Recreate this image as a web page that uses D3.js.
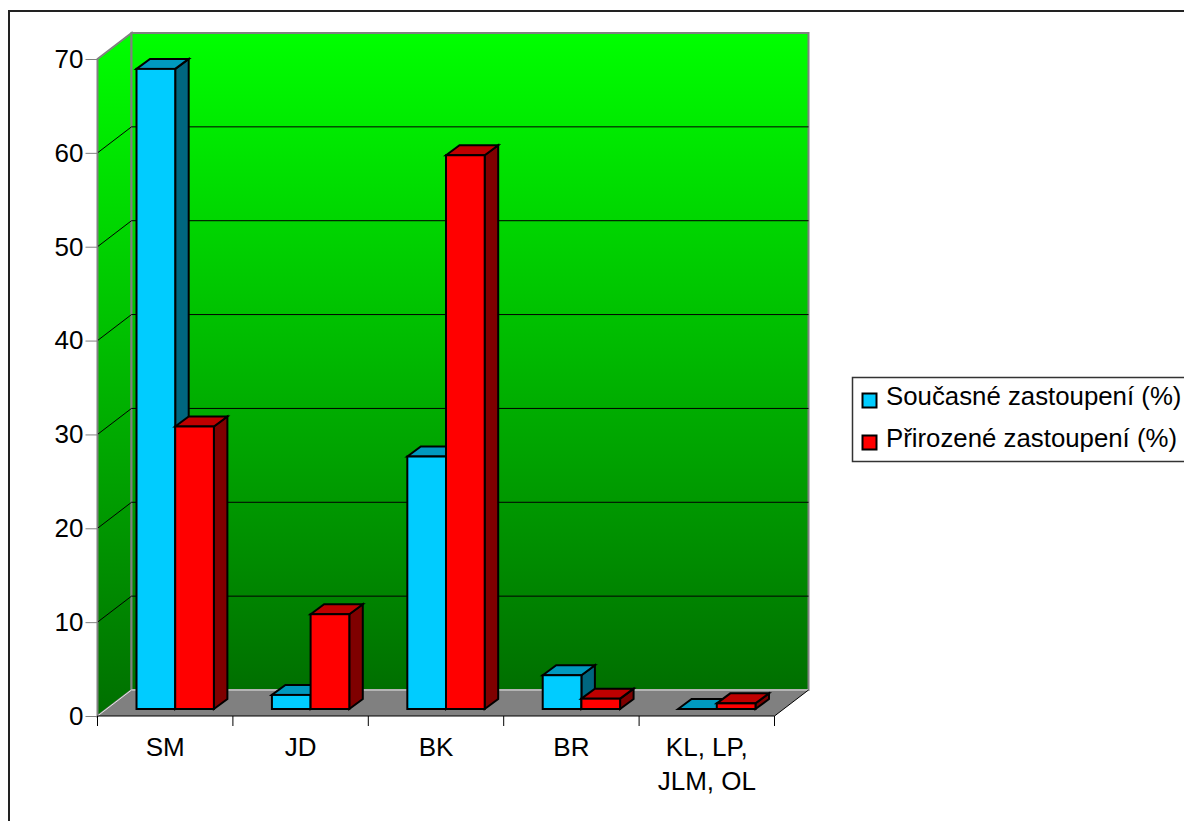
<!DOCTYPE html>
<html>
<head>
<meta charset="utf-8">
<script src="https://cdn.jsdelivr.net/npm/d3@7/dist/d3.min.js"></script>
<style>
  html, body { margin: 0; padding: 0; background: #fff; overflow: hidden; }
  text { font-family: "Liberation Sans", Arial, sans-serif; fill: #000; }
</style>
</head>
<body>
<div id="chart"></div>
<script>
// values
const categories = ['SM', 'JD', 'BK', 'BR', 'KL, LP, JLM, OL'];
const categoryLines = [['SM'], ['JD'], ['BK'], ['BR'], ['KL, LP,', 'JLM, OL']];
const seriesNames = ['Současné zastoupení (%)', 'Přirozené zastoupení (%)'];
const soucasne = [68.2, 1.5, 26.9, 3.6, 0.0];
const prirozene = [30.1, 10.1, 59.0, 1.1, 0.6];
const yTicks = [0, 10, 20, 30, 40, 50, 60, 70];

const width = 1184, height = 821;

// plot box of the front plane, and depth of the 3D walls / bars
const plot = { left: 97.5, right: 774.5, top: 59, bottom: 716 };
const wall = { dx: 34, dy: -26 };
const barDepth = { dx: 13.5, dy: -10 };
const barShift = { dx: 10, dy: -7 };

const colors = [
  { front: '#00ccff', top: '#0099bf', side: '#00667f' },
  { front: '#ff0000', top: '#bf0000', side: '#7f0000' }
];

const svg = d3.select('#chart').append('svg')
  .attr('width', width)
  .attr('height', height)
  .style('display', 'block');

const y = d3.scaleLinear().domain([0, 70]).range([plot.bottom, plot.top]);
const x = d3.scaleBand().domain(categories).range([plot.left, plot.right]);
const xInner = d3.scaleBand().domain([0, 1]).range([0, x.bandwidth()]).paddingOuter(0.75).paddingInner(0);

const poly = pts => 'M' + pts.map(p => p.join(',')).join('L') + 'Z';

// outer frame
svg.append('rect')
  .attr('x', 9).attr('y', 11)
  .attr('width', 1200).attr('height', 900)
  .attr('fill', '#fff').attr('stroke', '#222').attr('stroke-width', 2);

// wall gradient
const defs = svg.append('defs');
const grad = defs.append('linearGradient')
  .attr('id', 'wallFill').attr('x1', 0).attr('x2', 0).attr('y1', 0).attr('y2', 1);
grad.append('stop').attr('offset', '0%').attr('stop-color', '#00ff00');
grad.append('stop').attr('offset', '100%').attr('stop-color', '#006f00');

const backL = plot.left + wall.dx, backR = plot.right + wall.dx;
const backT = plot.top + wall.dy, backB = plot.bottom + wall.dy;

// side wall
svg.append('path')
  .attr('d', poly([[plot.left, plot.top], [backL, backT], [backL, backB], [plot.left, plot.bottom]]))
  .attr('fill', 'url(#wallFill)').attr('stroke', '#808080').attr('stroke-width', 2);

// back wall
svg.append('rect')
  .attr('x', backL).attr('y', backT)
  .attr('width', backR - backL).attr('height', backB - backT)
  .attr('fill', 'url(#wallFill)').attr('stroke', '#808080').attr('stroke-width', 2);

// gridlines, along the side wall then the back wall
yTicks.slice(1, -1).forEach(t => {
  svg.append('path')
    .attr('d', `M${plot.left},${y(t)}L${backL},${y(t) + wall.dy}L${backR},${y(t) + wall.dy}`)
    .attr('fill', 'none').attr('stroke', '#000').attr('stroke-width', 1);
});

// floor
svg.append('path')
  .attr('d', poly([[plot.left, plot.bottom], [backL, backB], [backR, backB], [plot.right, plot.bottom]]))
  .attr('fill', '#808080');
svg.append('path')
  .attr('d', `M${plot.left},${plot.bottom}L${backL},${backB}L${backR},${backB}`)
  .attr('fill', 'none').attr('stroke', '#e8e8e8').attr('stroke-width', 1);
svg.append('path')
  .attr('d', `M${plot.right},${plot.bottom}L${backR},${backB}`)
  .attr('fill', 'none').attr('stroke', '#000').attr('stroke-width', 1);

// axes
const yAxis = d3.axisLeft(y).tickValues(yTicks).tickSize(12).tickPadding(2);
const gy = svg.append('g').attr('transform', `translate(${plot.left},0)`).call(yAxis);
gy.select('.domain').attr('stroke', '#808080').attr('stroke-width', 1).attr('d', `M0,${plot.top}V${plot.bottom}`);
gy.selectAll('.tick line').attr('stroke', '#808080');
gy.selectAll('.tick text').attr('font-size', 26).attr('font-family', '"Liberation Sans", Arial, sans-serif');

const xAxisLine = svg.append('g');
xAxisLine.append('line')
  .attr('x1', plot.left).attr('x2', plot.right)
  .attr('y1', plot.bottom).attr('y2', plot.bottom)
  .attr('stroke', '#000');
const xEdges = categories.map(c => x(c)).concat(plot.right);
xAxisLine.selectAll('line.tick').data(xEdges).join('line')
  .attr('class', 'tick')
  .attr('x1', d => d).attr('x2', d => d)
  .attr('y1', plot.bottom).attr('y2', plot.bottom + 10)
  .attr('stroke', '#000');

xAxisLine.selectAll('text.cat').data(categories).join('text')
  .attr('class', 'cat')
  .attr('text-anchor', 'middle')
  .attr('font-size', 26)
  .attr('x', d => x(d) + x.bandwidth() / 2)
  .attr('y', 756)
  .each(function (d, i) {
    d3.select(this).selectAll('tspan').data(categoryLines[i]).join('tspan')
      .attr('x', x(d) + x.bandwidth() / 2)
      .attr('dy', (l, j) => j ? 34 : 0)
      .text(l => l);
  });

// bars, series by series inside each category so the later one overlaps
const barData = categories.flatMap((c, i) => [
  { cat: c, s: 0, v: soucasne[i] },
  { cat: c, s: 1, v: prirozene[i] }
]);

const bars = svg.append('g').selectAll('g').data(barData).join('g')
  .attr('stroke', '#000').attr('stroke-width', 2).attr('stroke-linejoin', 'miter');

bars.each(function (d) {
  const g = d3.select(this);
  const x0 = x(d.cat) + xInner(d.s) + barShift.dx;
  const x1 = x0 + xInner.bandwidth();
  const yb = y(0) + barShift.dy;
  const yt = y(d.v) + barShift.dy;
  const c = colors[d.s];
  const ddx = barDepth.dx, ddy = barDepth.dy;
  g.append('path').attr('fill', c.side)
    .attr('d', poly([[x1, yb], [x1 + ddx, yb + ddy], [x1 + ddx, yt + ddy], [x1, yt]]));
  g.append('path').attr('fill', c.top)
    .attr('d', poly([[x0, yt], [x0 + ddx, yt + ddy], [x1 + ddx, yt + ddy], [x1, yt]]));
  g.append('rect').attr('fill', c.front)
    .attr('x', x0).attr('y', yt).attr('width', x1 - x0).attr('height', yb - yt);
});

// legend
const legend = svg.append('g');
legend.append('rect')
  .attr('x', 852.5).attr('y', 377.5)
  .attr('width', 400).attr('height', 84)
  .attr('fill', '#fff').attr('stroke', '#333').attr('stroke-width', 1.5);
const legendRows = legend.selectAll('g').data(seriesNames).join('g')
  .attr('transform', (d, i) => `translate(0,${397 + i * 42})`);
legendRows.append('rect')
  .attr('x', 862.5).attr('y', -3.5)
  .attr('width', 14).attr('height', 14)
  .attr('fill', (d, i) => colors[i].front)
  .attr('stroke', '#000').attr('stroke-width', 2);
legendRows.append('text')
  .attr('x', 886).attr('y', 8)
  .attr('font-size', 25.8)
  .text(d => d);
</script>
</body>
</html>
